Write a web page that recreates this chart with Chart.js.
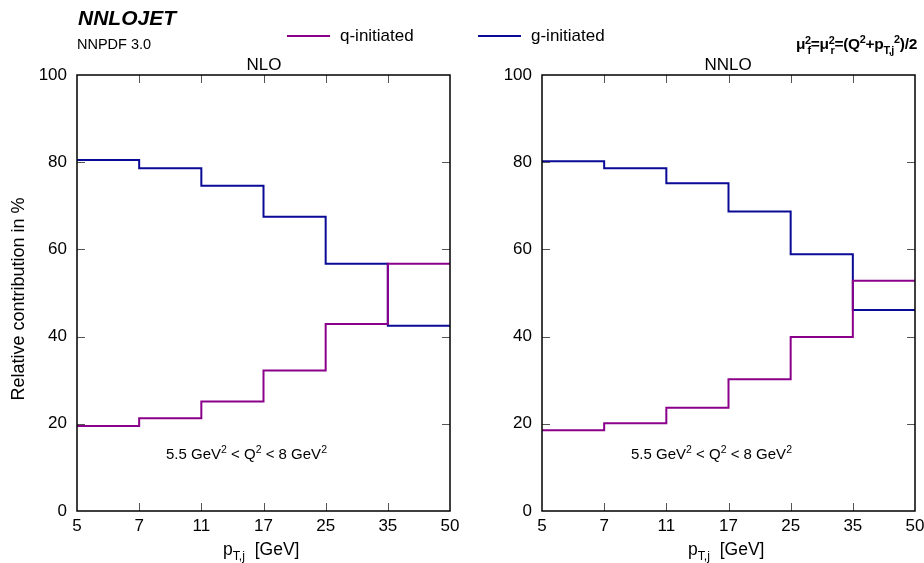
<!DOCTYPE html>
<html>
<head>
<meta charset="utf-8">
<script src="https://cdn.jsdelivr.net/npm/chart.js@4/dist/chart.umd.min.js"></script>
<style>
  html, body { margin:0; padding:0; background:#fff; }
  body { width:924px; height:563px; position:relative; overflow:hidden; font-family:"Liberation Sans", Arial, sans-serif; color:#000; }
  .cv { position:absolute; top:0; width:462px; height:563px; }
  .t { position:absolute; white-space:nowrap; line-height:1; }
  sub, sup { font-size:70%; line-height:0; }
  .ss { display:inline-flex; flex-direction:column; vertical-align:middle; font-size:70%; line-height:0.95; margin-left:0px; }
</style>
</head>
<body>
<div class="cv" style="left:0"><canvas id="c1" width="462" height="563"></canvas></div>
<div class="cv" style="left:462px"><canvas id="c2" width="462" height="563"></canvas></div>

<div class="t" style="left:78px;top:7px;font-size:21px;font-weight:bold;font-style:italic;">NNLOJET</div>
<div class="t" style="left:77px;top:37px;font-size:14.5px;">NNPDF 3.0</div>
<div class="t" style="left:740px;top:35px;font-size:15.5px;font-weight:bold;letter-spacing:-0.3px;width:177px;text-align:right;">μ<span class="ss"><span>2</span><span>f</span></span>=μ<span class="ss"><span>2</span><span>r</span></span>=(Q<sup>2</sup>+p<span class="ss"><span>&nbsp;</span><span>T,j</span></span><sup>2</sup>)/2</div>

<div style="position:absolute;left:287px;top:35px;width:43px;height:1.5px;background:#8b008b"></div>
<div class="t" style="left:340px;top:27px;font-size:17px;">q-initiated</div>
<div style="position:absolute;left:478px;top:35px;width:43px;height:1.5px;background:#0a0a96"></div>
<div class="t" style="left:531px;top:27px;font-size:17px;">g-initiated</div>

<div class="t" style="left:224px;top:56px;width:80px;text-align:center;font-size:17px;">NLO</div>
<div class="t" style="left:688px;top:56px;width:80px;text-align:center;font-size:17px;">NNLO</div>

<div class="t" style="left:9px;top:299px;font-size:18px;transform:rotate(-90deg);transform-origin:0 0;"><span style="display:inline-block;transform:translate(-50%,0)">Relative contribution in %</span></div>

<div class="t" style="left:166px;top:446px;font-size:15px;">5.5 GeV<sup>2</sup> &lt; Q<sup>2</sup> &lt; 8 GeV<sup>2</sup></div>
<div class="t" style="left:631px;top:446px;font-size:15px;">5.5 GeV<sup>2</sup> &lt; Q<sup>2</sup> &lt; 8 GeV<sup>2</sup></div>

<div class="t" style="left:223px;top:541px;font-size:17.5px;">p<sub>T,j</sub>&nbsp; [GeV]</div>
<div class="t" style="left:688px;top:541px;font-size:17.5px;">p<sub>T,j</sub>&nbsp; [GeV]</div>

<script>
const ptEdges = ['5', '7', '11', '17', '25', '35', '50'];
const yTicks = [0, 20, 40, 60, 80, 100];
const nloQ  = [19.5, 21.3, 25.1, 32.2, 42.9, 56.7];
const nloG  = [80.5, 78.6, 74.6, 67.5, 56.7, 42.5];
const nnloQ = [18.5, 20.1, 23.7, 30.2, 39.9, 52.8];
const nnloG = [80.2, 78.6, 75.2, 68.7, 58.9, 46.1];

const colQ = '#8b008b';
const colG = '#0a0a96';

function stepPoints(vals) {
  const pts = vals.map((v, i) => ({ x: i, y: v }));
  pts.push({ x: vals.length, y: vals[vals.length - 1] });
  return pts;
}

const frameTicks = {
  id: 'frameTicks',
  afterDatasetsDraw(chart) {
    const { ctx, chartArea: a, scales: { x, y } } = chart;
    ctx.save();
    ctx.strokeStyle = '#555';
    ctx.lineWidth = 1;
    const L = 8;
    ctx.beginPath();
    x.ticks.forEach(t => {
      if (t.value <= x.min || t.value >= x.max) return;
      const px = Math.round(x.getPixelForValue(t.value)) + 0.5;
      ctx.moveTo(px, a.bottom); ctx.lineTo(px, a.bottom - L);
      ctx.moveTo(px, a.top); ctx.lineTo(px, a.top + L);
    });
    y.ticks.forEach(t => {
      if (t.value <= y.min || t.value >= y.max) return;
      const py = Math.round(y.getPixelForValue(t.value)) + 0.5;
      ctx.moveTo(a.left, py); ctx.lineTo(a.left + L, py);
      ctx.moveTo(a.right, py); ctx.lineTo(a.right - L, py);
    });
    ctx.stroke();
    ctx.strokeStyle = '#000';
    ctx.lineWidth = 1.5;
    ctx.strokeRect(a.left, a.top, a.right - a.left, a.bottom - a.top);
    ctx.restore();
  }
};

function makeChart(id, q, g, leftW, padR) {
  return new Chart(document.getElementById(id), {
    type: 'line',
    data: {
      datasets: [
        { label: 'q-initiated', data: stepPoints(q), borderColor: colQ, borderWidth: 2, stepped: 'before', pointRadius: 0, fill: false },
        { label: 'g-initiated', data: stepPoints(g), borderColor: colG, borderWidth: 2, stepped: 'before', pointRadius: 0, fill: false }
      ]
    },
    options: {
      responsive: false,
      animation: false,
      devicePixelRatio: 1,
      layout: { padding: { top: 75, right: padR, left: 0, bottom: 0 } },
      plugins: { legend: { display: false }, tooltip: { enabled: false }, title: { display: false } },
      scales: {
        x: {
          type: 'linear', min: 0, max: ptEdges.length - 1,
          grid: { display: false, drawTicks: false },
          border: { display: false },
          ticks: {
            stepSize: 1, padding: 5, color: '#000', maxRotation: 0,
            font: { family: 'Liberation Sans', size: 17 },
            callback: v => ptEdges[v]
          },
          afterFit: s => { s.height = 52; s.paddingLeft = 0; s.paddingRight = 0; }
        },
        y: {
          min: 0, max: 100,
          grid: { display: false, drawTicks: false },
          border: { display: false },
          ticks: {
            stepSize: 20, padding: 10, color: '#000',
            font: { family: 'Liberation Sans', size: 17 }
          },
          afterFit: s => { s.width = leftW; s.paddingTop = 0; s.paddingBottom = 0; }
        }
      }
    },
    plugins: [frameTicks]
  });
}

makeChart('c1', nloQ, nloG, 77, 12);
makeChart('c2', nnloQ, nnloG, 80, 9);
</script>
</body>
</html>
